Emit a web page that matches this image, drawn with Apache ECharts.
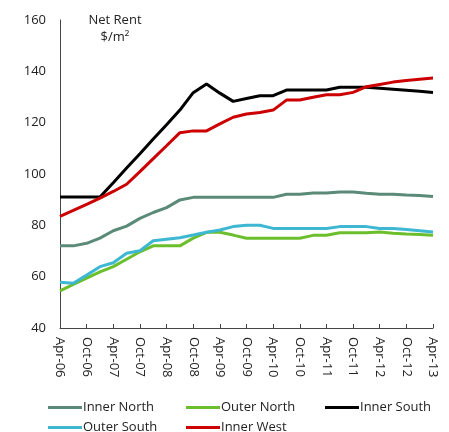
<!DOCTYPE html>
<html><head><meta charset="utf-8">
<script src="https://cdn.jsdelivr.net/npm/echarts@6/dist/echarts.min.js"></script>
<style>html,body{margin:0;padding:0;background:#fff}#c{width:449px;height:432px}</style>
</head><body><div id="c"></div>
<script>
const categories = ["Apr-06","Jul-06","Oct-06","Jan-07","Apr-07","Jul-07","Oct-07","Jan-08","Apr-08","Jul-08","Oct-08","Jan-09","Apr-09","Jul-09","Oct-09","Jan-10","Apr-10","Jul-10","Oct-10","Jan-11","Apr-11","Jul-11","Oct-11","Jan-12","Apr-12","Jul-12","Oct-12","Jan-13","Apr-13"];
const innerNorth = [72,72,73,75,77.9,79.7,82.7,85,86.9,89.9,90.9,90.9,90.9,90.9,90.9,90.9,90.9,92.1,92.1,92.6,92.6,93,93,92.5,92.1,92.1,91.8,91.6,91.2];
const outerNorth = [54.5,57,59.4,61.9,63.9,66.8,69.7,72,72,72,75,77.3,77.3,76.2,75,75,75,75,75,76.1,76.1,77.1,77.1,77.1,77.4,76.9,76.6,76.4,76.1];
const innerSouth = [91,91,91,91,96.6,102.3,107.9,113.6,119.2,124.9,131.7,135.1,131.5,128.3,129.4,130.5,130.5,132.7,132.7,132.7,132.7,133.8,133.8,133.8,133.4,133,132.6,132.2,131.8];
const outerSouth = [57.8,57.4,60.6,63.9,65.4,69.1,70.1,74,74.6,75.2,76.2,77.3,78.2,79.5,80,80,78.8,78.8,78.8,78.8,78.8,79.5,79.5,79.5,78.8,78.8,78.4,77.9,77.4];
const innerWest = [83.5,85.8,88.2,90.6,93.2,96,100.9,106,111,116.1,116.8,116.8,119.5,122.1,123.4,124,124.9,128.8,128.8,129.9,130.9,130.9,131.8,134,134.9,135.8,136.4,136.9,137.4];
const yTicks = [40,60,80,100,120,140,160];

const seriesDefs = [
  {name:"Inner North", data:innerNorth, color:"#5b8b78"},
  {name:"Outer North", data:outerNorth, color:"#6cbf2c"},
  {name:"Inner South", data:innerSouth, color:"#000000"},
  {name:"Outer South", data:outerSouth, color:"#3db7d2"},
  {name:"Inner West", data:innerWest, color:"#cc0000"}
];
const legendPos = [[48,401],[186,401],[325,401],[48,421],[186,421]];
const font = "'Open Sans', 'Liberation Sans', sans-serif";

const chart = echarts.init(document.getElementById('c'), null, {renderer:'canvas'});
chart.setOption({
  animation:false,
  backgroundColor:'#fff',
  grid:{left:60,right:16,top:20,bottom:104,containLabel:false},
  title:{text:"Net Rent\n$/m²",left:110,top:7,textAlign:'center',
    textStyle:{fontFamily:font,fontSize:13,fontWeight:'normal',color:'#222',lineHeight:17}},
  legend: seriesDefs.map((s,i)=>({
    data:[s.name], left:legendPos[i][0], top:legendPos[i][1], padding:0,
    itemWidth:34, itemHeight:3, itemGap:0, icon:'rect',
    textStyle:{fontFamily:font,fontSize:13,color:'#222',padding:[0,0,0,-4]}
  })),
  xAxis:{type:'category',data:categories,boundaryGap:false,
    axisLine:{lineStyle:{color:'#444',width:1}},
    axisTick:{show:true,inside:true,length:4,interval:1,lineStyle:{color:'#444'}},
    axisLabel:{interval:1,rotate:-90,fontFamily:font,fontSize:13,color:'#222',margin:9}},
  yAxis:{type:'value',min:40,max:160,interval:20,
    axisLine:{show:true,lineStyle:{color:'#444',width:1}},
    axisTick:{show:false},splitLine:{show:false},
    axisLabel:{fontFamily:font,fontSize:13,color:'#222',margin:14,
      formatter:v=>yTicks.includes(v)?String(v):''}},
  series: seriesDefs.map(s=>({name:s.name,type:'line',data:s.data,symbol:'none',
    lineStyle:{color:s.color,width:3},itemStyle:{color:s.color}}))
});
</script></body></html>
